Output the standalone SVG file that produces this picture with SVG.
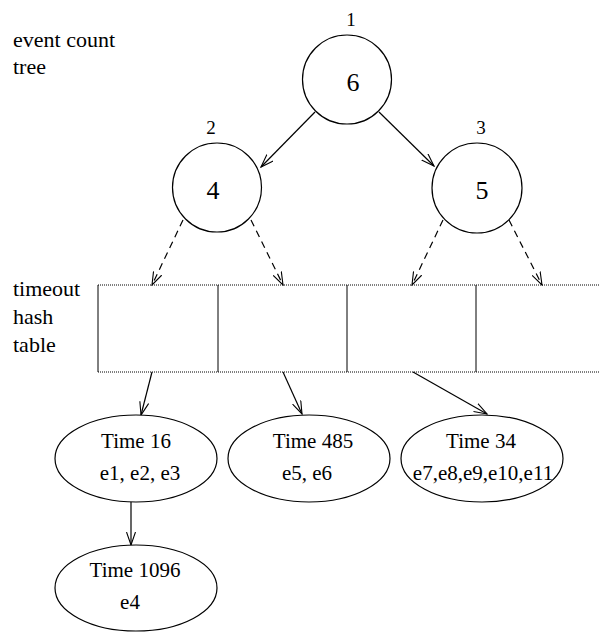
<svg xmlns="http://www.w3.org/2000/svg" width="599" height="632" viewBox="0 0 599 632" font-family="Liberation Serif, DejaVu Serif, serif">
<style>
text{font-family:'Liberation Serif','DejaVu Serif',serif;fill:#000}
.lab{font-size:22px}
.num{font-size:19px;text-anchor:middle}
.big{font-size:26px;text-anchor:middle}
.et{font-size:21px;text-anchor:middle}
.node{fill:#fff;stroke:#000;stroke-width:1.2}
.edge{stroke:#000;stroke-width:1.2;fill:none;marker-end:url(#arr)}
.dash{stroke-dasharray:7 5}
.tbl{stroke:#000;stroke-width:1;fill:none}
</style>
<defs>
<marker id="arr" viewBox="0 0 14 10" refX="13" refY="5" markerWidth="14" markerHeight="10" markerUnits="userSpaceOnUse" orient="auto">
<path d="M0,0.5 L13,5 L0,9.5" fill="none" stroke="#000" stroke-width="1.1"/>
</marker>
</defs>
<rect width="599" height="632" fill="#fff"/>
<g id="labels">
<text class="lab" x="13" y="47">event count</text>
<text class="lab" x="13" y="74">tree</text>
<text class="lab" x="13" y="296">timeout</text>
<text class="lab" x="13" y="324">hash</text>
<text class="lab" x="13" y="352">table</text>
</g>
<g id="connectors">
<line class="edge" x1="315" y1="112" x2="261" y2="167"/>
<line class="edge" x1="379" y1="112" x2="434" y2="166"/>
<line class="edge dash" x1="183" y1="220" x2="152" y2="285"/>
<line class="edge dash" x1="251" y1="220" x2="283" y2="285"/>
<line class="edge dash" x1="443" y1="220" x2="412" y2="285"/>
<line class="edge dash" x1="509" y1="220" x2="542" y2="285"/>
<line class="edge" x1="152" y1="372" x2="141" y2="415"/>
<line class="edge" x1="283" y1="372" x2="302" y2="414"/>
<line class="edge" x1="413" y1="372" x2="487" y2="414"/>
<line class="edge" x1="131" y1="502" x2="131" y2="545"/>
</g>
<g id="n1">
<circle class="node" cx="347" cy="79.5" r="44.5"/>
<text class="num" x="351" y="26">1</text>
<text class="big" x="353" y="91">6</text>
</g>
<g id="n2">
<circle class="node" cx="217" cy="187.5" r="44.5"/>
<text class="num" x="211" y="134">2</text>
<text class="big" x="213" y="199">4</text>
</g>
<g id="n3">
<circle class="node" cx="477" cy="188" r="45"/>
<text class="num" x="481" y="134">3</text>
<text class="big" x="482" y="199">5</text>
</g>
<g id="hashtable">
<line class="tbl" x1="98" y1="285" x2="599" y2="285" stroke-dasharray="1 1"/>
<line class="tbl" x1="98" y1="372" x2="599" y2="372" stroke-dasharray="1 1"/>
<line class="tbl" x1="98" y1="285" x2="98" y2="372"/>
<line class="tbl" x1="218" y1="285" x2="218" y2="372"/>
<line class="tbl" x1="347" y1="285" x2="347" y2="372"/>
<line class="tbl" x1="476" y1="285" x2="476" y2="372"/>
</g>
<g id="t16">
<ellipse class="node" cx="136" cy="458.5" rx="81" ry="43.5"/>
<text class="et" x="136" y="448">Time 16</text>
<text class="et" x="140" y="480">e1, e2, e3</text>
</g>
<g id="t485">
<ellipse class="node" cx="309" cy="458.5" rx="81" ry="43.5"/>
<text class="et" x="313" y="448">Time 485</text>
<text class="et" x="307" y="480">e5, e6</text>
</g>
<g id="t34">
<ellipse class="node" cx="482" cy="458.5" rx="81" ry="43.5"/>
<text class="et" x="481" y="448">Time 34</text>
<text class="et" x="483" y="480">e7,e8,e9,e10,e11</text>
</g>
<g id="t1096">
<ellipse class="node" cx="136" cy="588" rx="81" ry="43"/>
<text class="et" x="135" y="577">Time 1096</text>
<text class="et" x="130" y="609">e4</text>
</g>
</svg>
